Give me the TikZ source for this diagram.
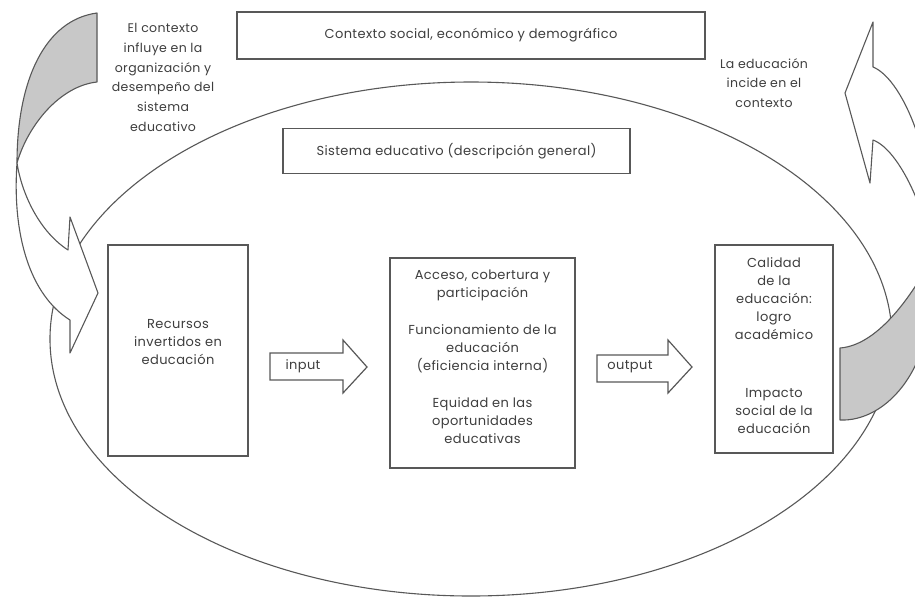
\documentclass[tikz,border=0pt]{standalone}
\usepackage{fontspec}
\setmainfont[LetterSpace=3]{Poppins}
\definecolor{ink}{RGB}{62,62,62}
\definecolor{edge}{RGB}{88,88,88}
\definecolor{ribbon}{RGB}{200,200,200}
\begin{document}
\begin{tikzpicture}[x=1pt,y=-1pt,
  every node/.style={inner sep=0pt, align=center, text=ink,
    font=\fontsize{13}{18}\selectfont},
  panel/.style={draw=edge, line width=1.2pt, fill=white},
  outline/.style={draw=edge, line width=1.1pt},
  ribbonback/.style={draw=edge, line width=1.1pt, fill=ribbon, line join=round},
  ribbonfront/.style={draw=edge, line width=1.1pt, fill=white, line join=round},
  blockarrow/.style={draw=edge, line width=1.2pt, fill=white, line join=miter},
  note/.style={font=\fontsize{12.5}{19.8}\selectfont}]
\useasboundingbox (0,0) rectangle (915,598);
\fill[white] (0,0) rectangle (915,598);

% the education system as a large ellipse
\draw[outline] (471,339) ellipse [x radius=421, y radius=257];

% framing boxes
\node[panel, minimum width=468pt, minimum height=47pt] (contexto) at (471,35.5)
  {Contexto social, económico y demográfico};
\node[panel, minimum width=347pt, minimum height=45pt] (sistema) at (456.5,151)
  {Sistema educativo (descripción general)};

% the three stages
\node[panel, minimum width=140pt, minimum height=211pt] (recursos) at (178,350.5) {};
\node at ([yshift=8pt]recursos.center) {Recursos\\invertidos en\\educación};

\node[panel, minimum width=185pt, minimum height=210pt] (proceso) at (482.5,363) {};
\node at ([yshift=6pt]proceso.center)
  {Acceso, cobertura y\\participación\\[19pt]Funcionamiento de la\\educación\\(eficiencia interna)\\[19pt]Equidad en las\\oportunidades\\educativas};

\node[panel, minimum width=118pt, minimum height=208pt] (resultados) at (774,349) {};
\node at ([yshift=3pt]resultados.center)
  {Calidad\\de la\\educación:\\logro\\académico\\[40pt]Impacto\\social de la\\educación};

% input / output block arrows
\draw[blockarrow] (270,353) -- (343,353) -- (343,340) -- (367,367) -- (343,393)
  -- (343,380) -- (270,380) -- cycle;
\node (input) at (303,366) {input};
\draw[blockarrow] (597,355) -- (668,355) -- (668,340) -- (692,367) -- (668,393)
  -- (668,382) -- (597,382) -- cycle;
\node (output) at (630,367) {output};

% twisted ribbons: context -> system (left), system -> context (right)
\begin{scope}
\clip (0,0) rectangle (915,598);
\filldraw[ribbonback] (97,13) .. controls (45,20) and (17,80) .. (17,163)
  .. controls (28,125) and (60,86) .. (97,82) -- cycle;
\filldraw[ribbonfront] (17,163) .. controls (12,235) and (30,295) .. (70,320)
  -- (70,353) -- (98,293) -- (70,217) -- (68,250)
  .. controls (40,232) and (22,195) .. (17,163) -- cycle;
\filldraw[ribbonback] (840,348) .. controls (880,345) and (915,290) .. (932,258)
  .. controls (940,370) and (885,422) .. (840,420) -- cycle;
\filldraw[ribbonfront] (932,258) .. controls (940,170) and (905,80) .. (873,67)
  -- (873,22) -- (845,93) -- (870,183) -- (873,140)
  .. controls (900,150) and (928,215) .. (932,258) -- cycle;
\end{scope}

% annotations of the two ribbons
\node[note] (influye) at (163,77.5)
  {El contexto\\influye en la\\organización y\\desempeño del\\sistema\\educativo};
\node[note] (incide) at (764,83)
  {La educación\\incide en el\\contexto};
\end{tikzpicture}
\end{document}
